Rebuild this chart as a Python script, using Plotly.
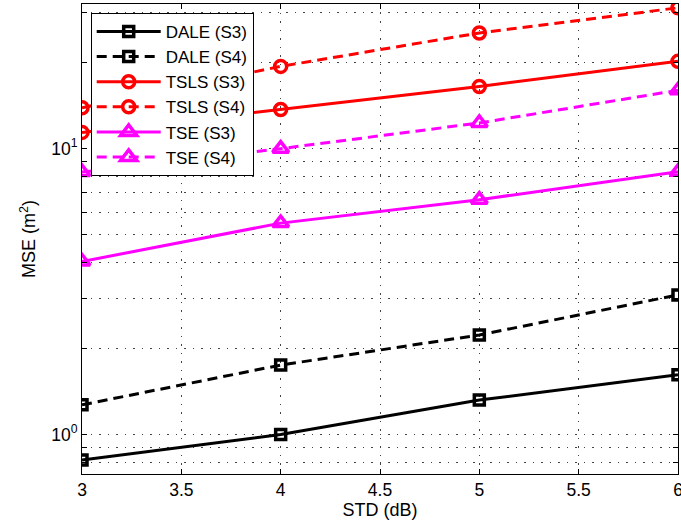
import plotly.graph_objects as go

# STD values (dB) on the x axis
std_db = [3, 4, 5, 6]

# MSE (m^2) per method and scenario
dale_s3 = [0.815, 1.00, 1.32, 1.62]
dale_s4 = [1.27, 1.75, 2.23, 3.08]
tsls_s3 = [11.4, 13.7, 16.5, 20.2]
tsls_s4 = [13.9, 19.4, 25.4, 31.1]
tse_s3 = [4.03, 5.49, 6.63, 8.3]
tse_s4 = [8.28, 10.0, 12.3, 16.0]

x_ticks = [3, 3.5, 4, 4.5, 5, 5.5, 6]
y_grid = [0.8, 0.9, 1, 2, 3, 4, 5, 6, 7, 8, 9, 10, 20, 30]
y_labels = {1: "10<sup>0</sup>", 10: "10<sup>1</sup>"}

FONT = "Liberation Sans, Arial, sans-serif"
DASH = "10px,6px"

series = [
    ("DALE (S3)", dale_s3, "black", "solid", "square-open", 10),
    ("DALE (S4)", dale_s4, "black", DASH, "square-open", 10),
    ("TSLS (S3)", tsls_s3, "red", "solid", "circle-open", 12),
    ("TSLS (S4)", tsls_s4, "red", DASH, "circle-open", 12),
    ("TSE (S3)", tse_s3, "magenta", "solid", "triangle-up-open", 14),
    ("TSE (S4)", tse_s4, "magenta", DASH, "triangle-up-open", 14),
]

fig = go.Figure()
for name, ys, color, dash, symbol, size in series:
    fig.add_trace(go.Scatter(
        x=std_db, y=ys, name=name, mode="lines+markers",
        line=dict(color=color, width=3, dash=dash),
        marker=dict(symbol=symbol, size=size, color=color,
                    line=dict(color=color, width=3.5)),
    ))

axis_common = dict(
    showline=True, linecolor="black", linewidth=1, mirror="allticks",
    ticks="inside", ticklen=5, tickcolor="black",
    showgrid=True, gridcolor="#444444", gridwidth=1, griddash="1.5px,7px",
    zeroline=False, tickfont=dict(family=FONT, size=17.5, color="black"),
    ticklabeloverflow="allow", automargin=False,
)

fig.update_xaxes(
    range=[3, 6], tickvals=x_ticks, ticktext=[f"{v:g}" for v in x_ticks],
    title=dict(text="STD (dB)", font=dict(family=FONT, size=18, color="black"), standoff=4),
    **axis_common,
)
fig.update_yaxes(
    type="log", range=[-0.138, 1.506], tickvals=y_grid,
    ticktext=[y_labels.get(v, "") for v in y_grid],
    title=dict(text="MSE (m<sup>2</sup>)", font=dict(family=FONT, size=18, color="black"), standoff=10),
    **axis_common,
)

fig.update_layout(
    width=681, height=527,
    margin=dict(l=82, r=3, t=4, b=53),
    plot_bgcolor="white", paper_bgcolor="white",
    font=dict(family=FONT, size=18, color="black"),
    legend=dict(
        x=0.0146, y=0.981, xanchor="left", yanchor="top",
        bgcolor="white", bordercolor="black", borderwidth=1,
        font=dict(family=FONT, size=17, color="black"),
        itemwidth=64, tracegroupgap=0,
    ),
    showlegend=True,
)

fig.write_html("out.html")
